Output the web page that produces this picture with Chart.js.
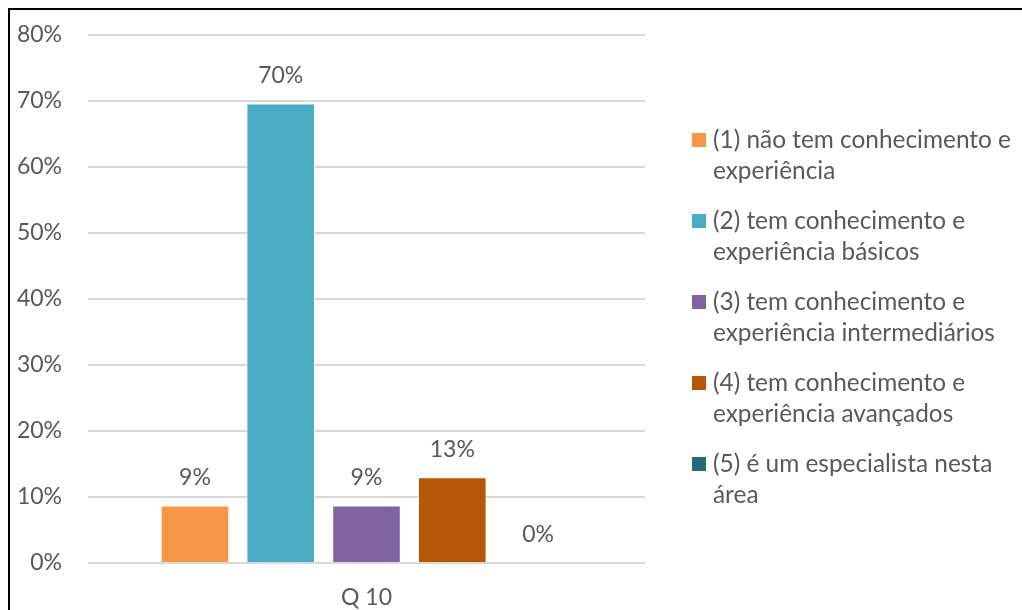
<!DOCTYPE html>
<html>
<head>
<meta charset="utf-8">
<script src="https://cdn.jsdelivr.net/npm/chart.js@4.4.0/dist/chart.umd.min.js"></script>
<style>
  body { margin: 0; background: #fff; }
  #wrap { position: relative; width: 1022px; height: 610px; overflow: hidden; }
  #frame { position: absolute; left: 8px; top: 8px; width: 1100px; height: 700px;
           border-left: 2px solid #000; border-top: 2px solid #000; pointer-events: none; }
</style>
</head>
<body>
<div id="wrap">
  <canvas id="mycanvas" width="1022" height="610"></canvas>
  <div id="frame"></div>
</div>
<script>
// data
var categories = ['Q 10'];
var seriesNames = [
  ['(1) não tem conhecimento e', 'experiência'],
  ['(2) tem conhecimento e', 'experiência básicos'],
  ['(3) tem conhecimento e', 'experiência intermediários'],
  ['(4) tem conhecimento e', 'experiência avançados'],
  ['(5) é um especialista nesta', 'área']
];
var seriesValues = [8.7, 69.6, 8.7, 13.0, 0];
var valueLabels = ['9%', '70%', '9%', '13%', '0%'];
var yTicks = [0, 10, 20, 30, 40, 50, 60, 70, 80];
var colors = ['#F79646', '#4BACC6', '#8064A2', '#B65708', '#276A7C'];

var FONT = 'Lato';
var TEXT = '#595959';

var datasets = [];
for (var i = 0; i < seriesValues.length; i++) {
  datasets.push({
    label: seriesNames[i].join(' '),
    data: [seriesValues[i]],
    backgroundColor: colors[i],
    borderColor: '#ffffff',
    borderWidth: 1,
    barPercentage: 0.8,
    categoryPercentage: 0.77
  });
}

// value labels above each bar
var barLabels = {
  id: 'barLabels',
  afterDatasetsDraw: function(chart) {
    var ctx = chart.ctx;
    ctx.save();
    ctx.font = '23px ' + FONT;
    ctx.fillStyle = TEXT;
    ctx.textAlign = 'center';
    ctx.textBaseline = 'middle';
    chart.data.datasets.forEach(function(ds, i) {
      var bar = chart.getDatasetMeta(i).data[0];
      ctx.fillText(valueLabels[i], bar.x, bar.y - 28);
    });
    ctx.restore();
  }
};

// legend on the right, two lines per entry
var sideLegend = {
  id: 'sideLegend',
  afterDraw: function(chart) {
    var ctx = chart.ctx;
    ctx.save();
    ctx.font = '24.4px ' + FONT;
    ctx.textBaseline = 'middle';
    ctx.textAlign = 'left';
    for (var i = 0; i < seriesNames.length; i++) {
      var y = 140 + i * 81;
      ctx.fillStyle = colors[i];
      ctx.fillRect(692, y - 7, 14, 14);
      ctx.fillStyle = TEXT;
      for (var j = 0; j < seriesNames[i].length; j++) {
        ctx.fillText(seriesNames[i][j], 713, y + j * 31);
      }
    }
    ctx.restore();
  }
};

var ctx = document.getElementById('mycanvas');
new Chart(ctx, {
  type: 'bar',
  data: { labels: categories, datasets: datasets },
  options: {
    responsive: false,
    animation: false,
    layout: { padding: { top: 10, right: 377, left: 0, bottom: 0 } },
    plugins: {
      legend: { display: false },
      tooltip: { enabled: false }
    },
    scales: {
      x: {
        grid: { display: false },
        border: { display: false },
        ticks: { color: TEXT, font: { family: FONT, size: 23 }, padding: 13 },
        afterFit: function(s) { s.height = 47; }
      },
      y: {
        min: 0,
        max: 80,
        afterBuildTicks: function(s) { s.ticks = yTicks.map(function(v) { return { value: v }; }); },
        afterFit: function(s) { s.width = 88; },
        grid: { color: '#d9d9d9', lineWidth: 2, drawTicks: false },
        border: { display: false },
        ticks: {
          color: TEXT,
          padding: 26,
          font: { family: FONT, size: 23, lineHeight: 0.78 },
          callback: function(v) { return v + '%'; }
        }
      }
    }
  },
  plugins: [barLabels, sideLegend]
});
</script>
</body>
</html>
